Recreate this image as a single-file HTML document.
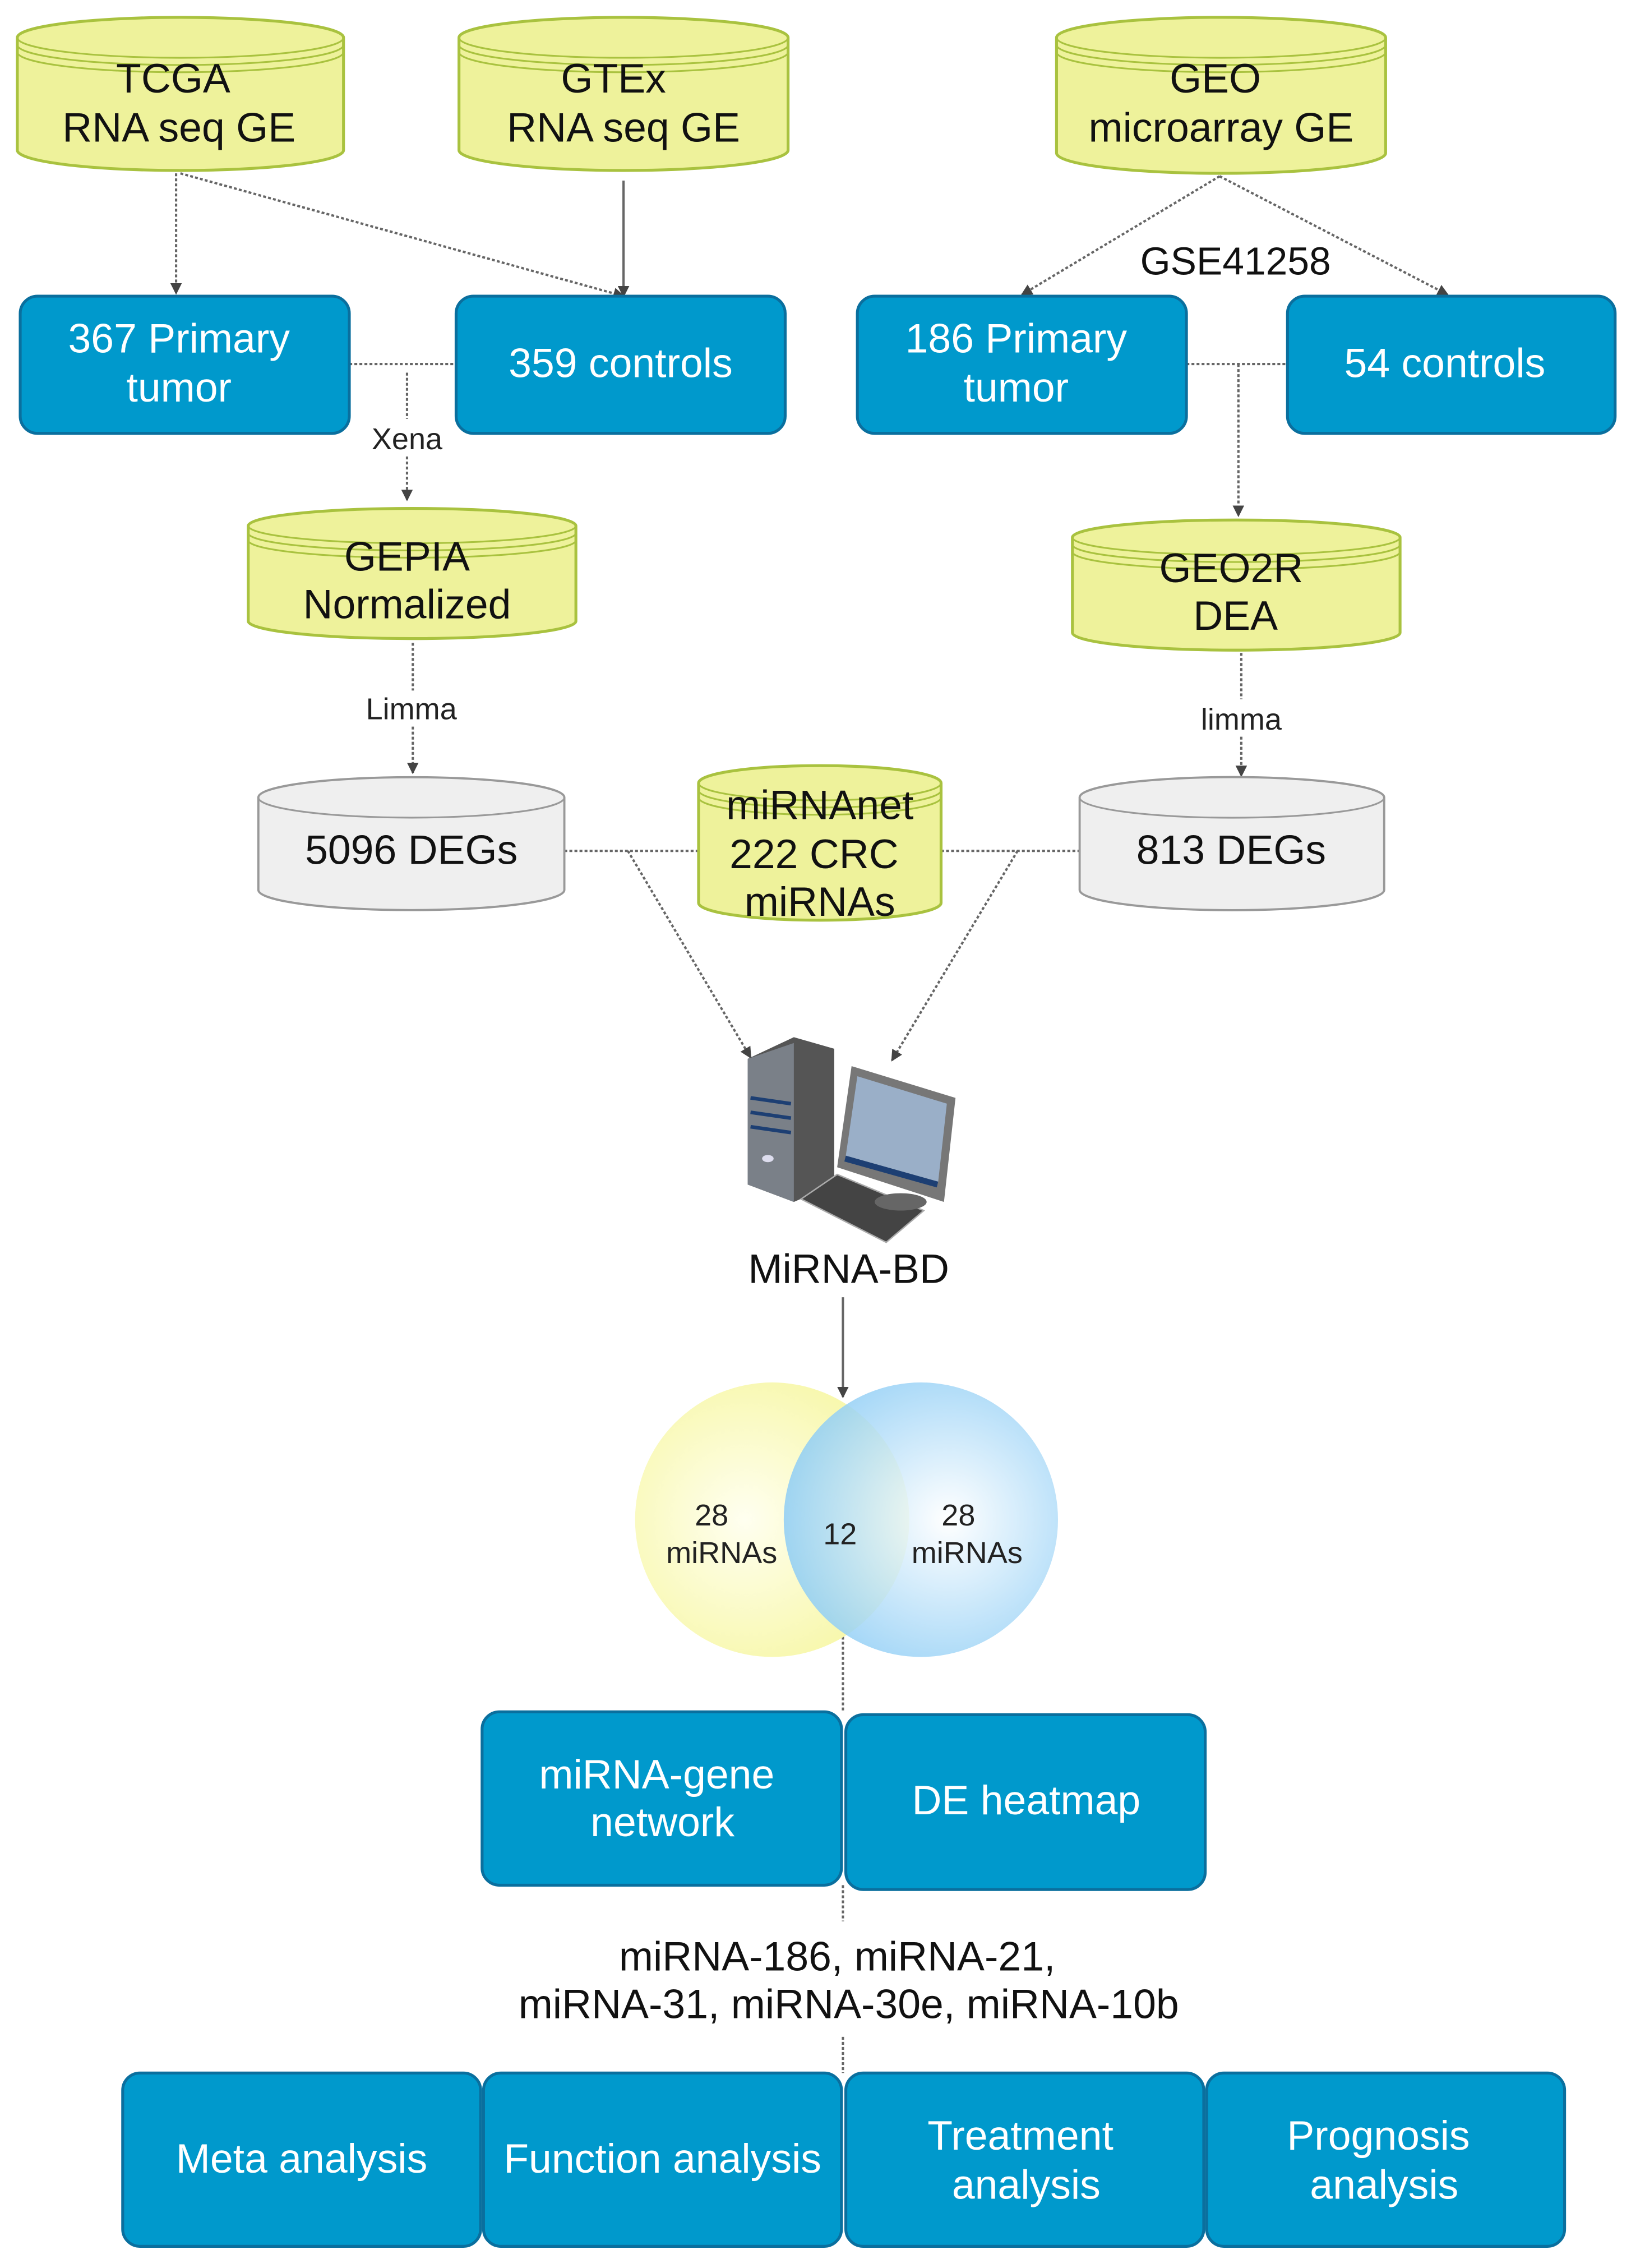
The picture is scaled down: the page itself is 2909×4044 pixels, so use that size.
<!DOCTYPE html>
<html><head><meta charset="utf-8"><style>
html,body{margin:0;padding:0;background:#fff;}
svg{display:block;}
text{font-family:"Liberation Sans",Arial,sans-serif;}
</style></head><body>
<svg width="2909" height="4044" viewBox="0 0 1130 1570" preserveAspectRatio="none" xmlns="http://www.w3.org/2000/svg">
<defs>
<marker id="ar" markerWidth="8" markerHeight="8" refX="7" refY="4" orient="auto" markerUnits="userSpaceOnUse"><path d="M0,0 L8,4 L0,8 z" fill="#444"/></marker>
<radialGradient id="gy" cx="0.4" cy="0.5" r="0.6"><stop offset="0" stop-color="#fffff0"/><stop offset="1" stop-color="#f7f7a8"/></radialGradient>
<radialGradient id="gb" cx="0.6" cy="0.5" r="0.6"><stop offset="0" stop-color="#ffffff"/><stop offset="1" stop-color="#8ecdf5"/></radialGradient>
</defs>
<g fill="none" stroke="#666" stroke-width="1.6" stroke-dasharray="2,1.5">
<line x1="122" y1="120" x2="122" y2="203" marker-end="url(#ar)"/>
<line x1="125" y1="120" x2="432" y2="205" marker-end="url(#ar)"/>
<line x1="432" y1="125" x2="432" y2="205" stroke-dasharray="none" marker-end="url(#ar)"/>
<line x1="242" y1="252" x2="316" y2="252"/>
<line x1="282" y1="258" x2="282" y2="290"/>
<line x1="282" y1="316" x2="282" y2="346" marker-end="url(#ar)"/>
<line x1="845" y1="122" x2="708" y2="204" marker-end="url(#ar)"/>
<line x1="845" y1="122" x2="1003" y2="204" marker-end="url(#ar)"/>
<line x1="822" y1="252" x2="892" y2="252"/>
<line x1="858" y1="252" x2="858" y2="357" marker-end="url(#ar)"/>
<line x1="286" y1="445" x2="286" y2="478"/>
<line x1="286" y1="503" x2="286" y2="535" marker-end="url(#ar)"/>
<line x1="860" y1="452" x2="860" y2="484"/>
<line x1="860" y1="510" x2="860" y2="537" marker-end="url(#ar)"/>
<line x1="391" y1="589" x2="484" y2="589"/>
<line x1="652" y1="589" x2="748" y2="589"/>
<line x1="435" y1="589" x2="520" y2="732" marker-end="url(#ar)"/>
<line x1="705" y1="589" x2="618" y2="734" marker-end="url(#ar)"/>
<line x1="584" y1="898" x2="584" y2="967" stroke-dasharray="none" marker-end="url(#ar)"/>
<line x1="584" y1="1070" x2="584" y2="1185"/>
<line x1="584" y1="1305" x2="584" y2="1330"/>
<line x1="584" y1="1410" x2="584" y2="1435"/>
</g>
<g stroke="#a9c23f" stroke-width="2" fill="#eef29b">
<path d="M12,26 A113,14 0 0 1 238,26 V104 A113,14 0 0 1 12,104 Z"/>
<path d="M318,26 A114,14 0 0 1 546,26 V104 A114,14 0 0 1 318,104 Z"/>
<path d="M732,26 A114,14 0 0 1 960,26 V106 A114,14 0 0 1 732,106 Z"/>
<path d="M172,364 A113,12 0 0 1 399,364 V430 A113,12 0 0 1 172,430 Z"/>
<path d="M743,372 A113,12 0 0 1 970,372 V438 A113,12 0 0 1 743,438 Z"/>
<path d="M484,542 A84,12 0 0 1 652,542 V625 A84,12 0 0 1 484,625 Z"/>
</g>
<g stroke="#a9c23f" stroke-width="1.2" fill="none">
<path d="M12,26 A113,14 0 0 0 238,26 M12,31 A113,14 0 0 0 238,31 M12,36 A113,14 0 0 0 238,36"/>
<path d="M318,26 A114,14 0 0 0 546,26 M318,31 A114,14 0 0 0 546,31 M318,36 A114,14 0 0 0 546,36"/>
<path d="M732,26 A114,14 0 0 0 960,26 M732,31 A114,14 0 0 0 960,31 M732,36 A114,14 0 0 0 960,36"/>
<path d="M172,364 A113,12 0 0 0 399,364 M172,369 A113,12 0 0 0 399,369 M172,374 A113,12 0 0 0 399,374"/>
<path d="M743,372 A113,12 0 0 0 970,372 M743,377 A113,12 0 0 0 970,377 M743,382 A113,12 0 0 0 970,382"/>
<path d="M484,542 A84,12 0 0 0 652,542 M484,547 A84,12 0 0 0 652,547 M484,552 A84,12 0 0 0 652,552"/>
</g>
<g stroke="#999" stroke-width="1.5" fill="#efefef">
<path d="M179,552 A106,14 0 0 1 391,552 V616 A106,14 0 0 1 179,616 Z"/>
<path d="M748,552 A105,14 0 0 1 959,552 V616 A105,14 0 0 1 748,616 Z"/>
</g>
<g stroke="#999" stroke-width="1.2" fill="none">
<path d="M179,552 A106,14 0 0 0 391,552"/><path d="M748,552 A105,14 0 0 0 959,552"/>
</g>
<g fill="#0099cc" stroke="#0a6f9e" stroke-width="2">
<rect x="14" y="205" width="228" height="95" rx="12"/>
<rect x="316" y="205" width="228" height="95" rx="12"/>
<rect x="594" y="205" width="228" height="95" rx="12"/>
<rect x="892" y="205" width="227" height="95" rx="12"/>
<rect x="334" y="1185" width="249" height="120" rx="12"/>
<rect x="586" y="1187" width="249" height="121" rx="12"/>
<rect x="85" y="1435" width="248" height="120" rx="12"/>
<rect x="335" y="1435" width="248" height="120" rx="12"/>
<rect x="586" y="1435" width="248" height="120" rx="12"/>
<rect x="836" y="1435" width="248" height="120" rx="12"/>
</g>
<circle cx="535" cy="1052" r="95" fill="url(#gy)"/>
<circle cx="638" cy="1052" r="95" fill="url(#gb)" opacity="0.85"/>
<g>
<polygon points="518,733 550,718 578,726 578,820 550,832 518,820" fill="#555"/>
<polygon points="518,733 550,722 550,832 518,820" fill="#7a8088"/>
<path d="M520,760 L548,764 M520,770 L548,774 M520,780 L548,784" stroke="#1d3f73" stroke-width="2.5"/>
<ellipse cx="532" cy="802" rx="4" ry="2.5" fill="#dde"/>
<polygon points="590,738 662,760 654,832 580,808" fill="#777"/>
<polygon points="594,745 656,764 650,818 586,800" fill="#9aafc8"/>
<polygon points="586,800 650,818 649,822 585,804" fill="#1d3f73"/>
<polygon points="555,830 580,813 640,838 614,860" fill="#444" stroke="#aaa" stroke-width="1"/>
<ellipse cx="624" cy="832" rx="18" ry="6" fill="#666"/>
</g>
<g font-size="28.5" fill="#111" text-anchor="middle">
<text x="120" y="64">TCGA</text><text x="124" y="98">RNA seq GE</text>
<text x="425" y="64">GTEx</text><text x="432" y="98">RNA seq GE</text>
<text x="842" y="64">GEO</text><text x="846" y="98">microarray GE</text>
<text x="282" y="395">GEPIA</text><text x="282" y="428">Normalized</text>
<text x="853" y="403">GEO2R</text><text x="856" y="436">DEA</text>
<text x="568" y="567">miRNAnet</text><text x="564" y="601">222 CRC</text><text x="568" y="634">miRNAs</text>
<text x="285" y="598">5096 DEGs</text><text x="853" y="598">813 DEGs</text>
<text x="588" y="888">MiRNA-BD</text>
<text x="856" y="190" font-size="27">GSE41258</text>
<text x="580" y="1364">miRNA-186, miRNA-21,</text>
<text x="588" y="1397">miRNA-31, miRNA-30e, miRNA-10b</text>
</g>
<g font-size="21" fill="#222" text-anchor="middle">
<text x="282" y="311">Xena</text>
<text x="285" y="498">Limma</text>
<text x="860" y="505">limma</text>
<text x="493" y="1056">28</text><text x="500" y="1082">miRNAs</text>
<text x="582" y="1069">12</text>
<text x="664" y="1056">28</text><text x="670" y="1082">miRNAs</text>
</g>
<g font-size="28.5" fill="#fff" text-anchor="middle">
<text x="124" y="244">367 Primary</text><text x="124" y="278">tumor</text>
<text x="430" y="261">359 controls</text>
<text x="704" y="244">186 Primary</text><text x="704" y="278">tumor</text>
<text x="1001" y="261">54 controls</text>
<text x="455" y="1238">miRNA-gene</text><text x="459" y="1271">network</text>
<text x="711" y="1256">DE heatmap</text>
<text x="209" y="1504">Meta analysis</text>
<text x="459" y="1504">Function analysis</text>
<text x="707" y="1488">Treatment</text><text x="711" y="1522">analysis</text>
<text x="955" y="1488">Prognosis</text><text x="959" y="1522">analysis</text>
</g>
</svg>
</body></html>
